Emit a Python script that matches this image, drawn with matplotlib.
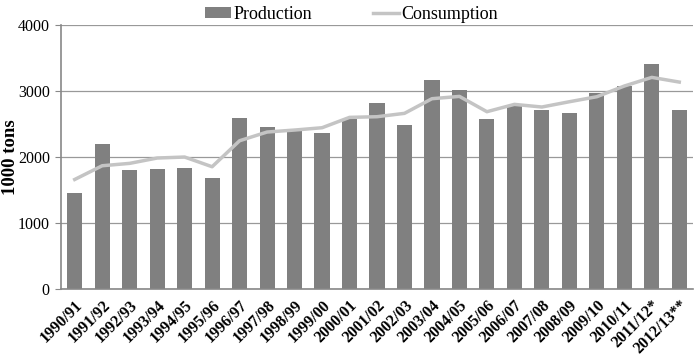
import matplotlib
matplotlib.use("Agg")
import matplotlib.pyplot as plt
import numpy as np

categories = ["1990/91", "1991/92", "1992/93", "1993/94", "1994/95", "1995/96",
              "1996/97", "1997/98", "1998/99", "1999/00", "2000/01", "2001/02",
              "2002/03", "2003/04", "2004/05", "2005/06", "2006/07", "2007/08",
              "2008/09", "2009/10", "2010/11", "2011/12*", "2012/13**"]
production = [1455, 2200, 1805, 1818, 1838, 1682, 2586, 2459, 2394, 2368, 2571,
              2818, 2490, 3167, 3010, 2571, 2773, 2707, 2662, 2965, 3071, 3404, 2712]
consumption = [1660, 1868, 1904, 1985, 2000, 1853, 2247, 2379, 2409, 2444, 2601,
               2611, 2662, 2884, 2919, 2687, 2798, 2758, 2838, 2914, 3076, 3207, 3136]
yticks = [0, 1000, 2000, 3000, 4000]

plt.rcParams['font.family'] = ['Liberation Serif', 'DejaVu Serif']

fig = plt.figure(figsize=(6.96, 3.58), dpi=100)
ax = fig.add_axes([0.0876, 0.1927, 0.9081, 0.7373])

x = np.arange(len(categories))
bars = ax.bar(x, production, width=0.55, color='#808080', label='Production', zorder=2)
line, = ax.plot(x, consumption, color='#c4c4c4', lw=2.5, label='Consumption', zorder=3)

ax.set_xlim(-0.5, len(categories) - 0.5)
ax.set_ylim(0, 4000)
ax.set_yticks(yticks)
ax.set_yticklabels([str(t) for t in yticks], fontsize=11.5)
ax.yaxis.grid(True, color='#999999', lw=0.9, zorder=0)
ax.set_axisbelow(True)

ax.set_xticks(x)
ax.set_xticklabels(categories, rotation=45, ha='right', rotation_mode='anchor',
                   fontsize=11.5, fontweight='bold')
ax.tick_params(axis='x', length=0, pad=6)
ax.tick_params(axis='y', length=4, color='#888888', pad=4)

for s in ['top', 'right']:
    ax.spines[s].set_visible(False)
ax.spines['left'].set_color('#888888')
ax.spines['bottom'].set_color('#888888')
ax.spines['left'].set_linewidth(1.2)
ax.spines['bottom'].set_linewidth(1.2)

ax.set_ylabel('1000 tons', fontsize=13.5, fontweight='bold')
ax.yaxis.set_label_coords(-0.066, 0.5)

ax.legend([bars, line], ['Production', 'Consumption'],
          loc='center', bbox_to_anchor=(0.46, 1.04), ncol=2, frameon=False,
          fontsize=13, handlelength=1.4, handleheight=0.5, handletextpad=0.15,
          columnspacing=3.4, borderaxespad=0, borderpad=0)

fig.savefig('out.png', dpi=100)
